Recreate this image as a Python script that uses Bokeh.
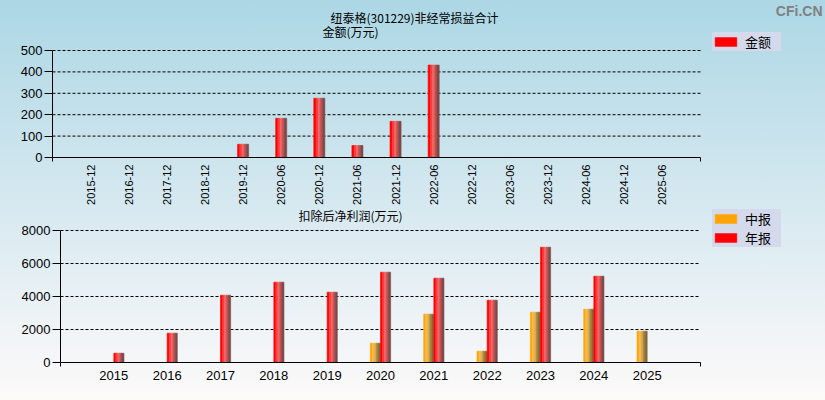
import math
from bokeh.plotting import figure
from bokeh.models import Range1d, FixedTicker, Label, Legend, LegendItem
from bokeh.embed import file_html
from bokeh.resources import INLINE

# ---------------- data ----------------
title_main = "纽泰格(301229)非经常损益合计"
title_top = "金额(万元)"
title_bottom = "扣除后净利润(万元)"
watermark = "CFi.CN"

periods = ["2015-12", "2016-12", "2017-12", "2018-12", "2019-12", "2020-06",
           "2020-12", "2021-06", "2021-12", "2022-06", "2022-12", "2023-06",
           "2023-12", "2024-06", "2024-12", "2025-06"]
amounts = [None, None, None, None, 62, 183, 277, 56, 169, 432,
           None, None, None, None, None, None]
top_ticks = [0, 100, 200, 300, 400, 500]

years = ["2015", "2016", "2017", "2018", "2019", "2020", "2021", "2022",
         "2023", "2024", "2025"]
interim = [None, None, None, None, None, 1172, 2929, 687, 3050, 3232, 1899]
annual = [566, 1778, 4080, 4869, 4262, 5474, 5111, 3777, 6989, 5232, None]
bottom_ticks = [0, 2000, 4000, 6000, 8000]

legend_top = ["金额"]
legend_bottom = ["中报", "年报"]

# first strip colour doubles as the legend swatch colour
RED_STRIPS = ["#ff0000", "#ff3a3a", "#ee6666", "#c24e4e", "#7c4a4a"]
ORANGE_STRIPS = ["#ffa500", "#f8bb48", "#dcab52", "#aa8438", "#7e6a3a"]

NUM_FONT = "Liberation Sans"
CJK_FONT = "Noto Sans CJK SC"
W = 825


def strip_bars(p, xs, tops, width, offset, colors):
    pts = [(x, t) for x, t in zip(xs, tops) if t is not None]
    bx = [x for x, _ in pts]
    bt = [t for _, t in pts]
    n = len(colors)
    sw = width / n
    rs = []
    for i, c in enumerate(colors):
        off = offset - width / 2 + sw * (i + 0.5)
        rs.append(p.vbar(x=[x + off for x in bx], top=bt, bottom=0, width=sw,
                         fill_color=c, line_color=c, line_width=0.6))
    return rs[0]


def style_axes(p, yticks, xticks, xlabels, xfont, orient, xmax, xstand):
    p.outline_line_color = None
    p.border_fill_color = None
    p.background_fill_color = None
    p.xgrid.grid_line_color = None
    p.ygrid.grid_line_color = None
    # dashed horizontal grid lines restricted to the plotting area
    p.segment(x0=[0] * (len(yticks) - 1), x1=[xmax] * (len(yticks) - 1),
              y0=yticks[1:], y1=yticks[1:], line_color="black",
              line_dash="3 2", line_width=1)
    ya = p.yaxis[0]
    ya.ticker = FixedTicker(ticks=yticks)
    ya.bounds = (yticks[0], yticks[-1])
    ya.axis_line_color = "black"
    ya.major_tick_out = 8
    ya.major_tick_in = 0
    ya.minor_tick_out = 0
    ya.minor_tick_in = 0
    ya.major_label_text_font = NUM_FONT
    ya.major_label_text_font_size = "13px"
    ya.major_label_text_color = "black"
    ya.major_label_standoff = 2
    xa = p.xaxis[0]
    xa.ticker = FixedTicker(ticks=xticks, minor_ticks=[0, xmax])
    xa.bounds = (0, xmax)
    xa.major_label_overrides = {t: lab for t, lab in zip(xticks, xlabels)}
    xa.axis_line_color = "black"
    xa.major_tick_out = 0
    xa.major_tick_in = 0
    xa.minor_tick_out = 4
    xa.minor_tick_in = 0
    xa.minor_tick_line_color = "black"
    xa.major_label_text_font = NUM_FONT
    xa.major_label_text_font_size = xfont
    xa.major_label_text_color = "black"
    xa.major_label_orientation = orient
    xa.major_label_standoff = xstand


def make_legend(p, labels, renderers, loc):
    items = [LegendItem(label=lab, renderers=[r]) for lab, r in zip(labels, renderers)]
    lg = Legend(items=items, location=loc, padding=5, spacing=0, margin=0,
                glyph_width=27, glyph_height=11, label_height=14,
                label_standoff=6, label_width=36,
                label_text_font=CJK_FONT, label_text_font_size="13px",
                label_text_color="black",
                background_fill_color="#d4daeb", background_fill_alpha=1,
                border_line_color=None)
    p.add_layout(lg)


# ---------------- top chart ----------------
# pixel geometry of the plotting area (frame extends up/right to hold texts)
H1 = 208
L1, R1, T1, B1 = 52, 700, 50, 157
n1 = len(periods)
x1 = list(range(1, n1 + 1))
xmax1 = n1 + 1
ymax1 = top_ticks[-1]
p1 = figure(width=W, height=H1, output_backend="svg", toolbar_location=None,
            title=None,
            x_range=Range1d(0, xmax1 * (W - L1) / (R1 - L1)),
            y_range=Range1d(0, ymax1 * B1 / (B1 - T1)),
            min_border_left=L1, min_border_right=0, min_border_top=0,
            min_border_bottom=H1 - B1,
            styles={"background": "linear-gradient(#acd7e5, #d7e9f0)"})
style_axes(p1, top_ticks, x1, periods, "11px", math.pi / 2, xmax1, 3)
r_amt = strip_bars(p1, x1, amounts, 0.29, 0.0, RED_STRIPS)
make_legend(p1, legend_top, [r_amt], (660, 106))

p1.add_layout(Label(x=278, y=140, x_units="screen", y_units="screen",
                    text=title_main, text_font=CJK_FONT, text_font_size="12px",
                    text_color="black", text_baseline="middle"))
p1.add_layout(Label(x=270, y=126, x_units="screen", y_units="screen",
                    text=title_top, text_font=CJK_FONT, text_font_size="12px",
                    text_color="black", text_baseline="middle"))
p1.add_layout(Label(x=770, y=147, x_units="screen", y_units="screen",
                    text=watermark, text_font=NUM_FONT,
                    text_font_size="14px", text_font_style="bold",
                    text_color="#808080", text_align="right",
                    text_baseline="middle"))

# ---------------- bottom chart ----------------
H2 = 400 - H1
L2, R2, T2, B2 = 60, 700, 230 - H1, 362 - H1
n2 = len(years)
x2 = list(range(1, n2 + 1))
xmax2 = n2 + 1
ymax2 = bottom_ticks[-1]
p2 = figure(width=W, height=H2, output_backend="svg", toolbar_location=None,
            title=None,
            x_range=Range1d(0, xmax2 * (W - L2) / (R2 - L2)),
            y_range=Range1d(0, ymax2 * B2 / (B2 - T2)),
            min_border_left=L2, min_border_right=0, min_border_top=0,
            min_border_bottom=H2 - B2,
            styles={"background": "linear-gradient(#d7e9f0, #fdfafa)"})
style_axes(p2, bottom_ticks, x2, years, "13px", "horizontal", xmax2, 4)
r_int = strip_bars(p2, x2, interim, 0.19, -0.095, ORANGE_STRIPS)
r_ann = strip_bars(p2, x2, annual, 0.19, 0.095, RED_STRIPS)
make_legend(p2, legend_bottom, [r_int, r_ann], (652, 115))

p2.add_layout(Label(x=238, y=147, x_units="screen", y_units="screen",
                    text=title_bottom, text_font=CJK_FONT, text_font_size="12px",
                    text_color="black", text_baseline="middle"))

open("out.html", "w").write(file_html([p1, p2], INLINE))
